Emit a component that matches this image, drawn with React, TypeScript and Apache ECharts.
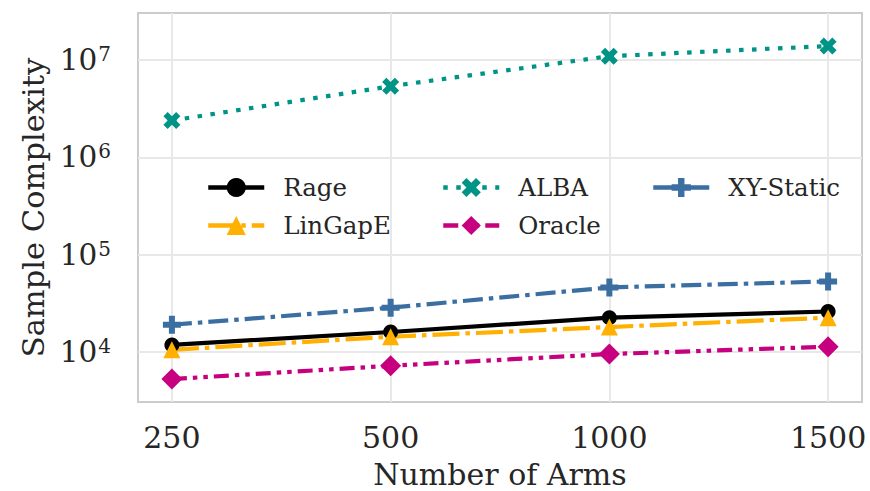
import React, { useEffect, useRef } from "react";
import * as echarts from "echarts";

const categories = ["250", "500", "1000", "1500"];
const rage = [11800, 16000, 22500, 26000];
const alba = [2400000, 5400000, 11000000, 14000000];
const linGapE = [10500, 14300, 18000, 22500];
const oracle = [5250, 7200, 9500, 11300];
const xyStatic = [19000, 28500, 46000, 53000];

const FONT = "DejaVu Serif";

const X_PATH = "path://M0,2L2,0L4,2L6,0L8,2L6,4L8,6L6,8L4,6L2,8L0,6L2,4Z";
const P_PATH = "path://M3,0H6V3H9V6H6V9H3V6H0V3H3Z";

function toPairs(vals: number[]) {
  return vals.map((v, i) => [i, v]);
}

export default function App() {
  const ref = useRef<HTMLDivElement>(null);
  useEffect(() => {
    if (!ref.current) return;
    const chart = echarts.init(ref.current, null, { renderer: "svg" });
    const seriesDefs = [
      { name: "Oracle", data: oracle, color: "#c6007e", dash: [15, 6, 4.5, 6, 4.5, 6], symbol: "diamond", size: 21 },
      { name: "XY-Static", data: xyStatic, color: "#3b6fa1", dash: [20, 6, 4.5, 6], symbol: P_PATH, size: 18 },
      { name: "ALBA", data: alba, color: "#009486", dash: [4.5, 8.5], symbol: X_PATH, size: 17 },
      { name: "Rage", data: rage, color: "#000000", dash: "solid", symbol: "circle", size: 15 },
      { name: "LinGapE", data: linGapE, color: "#ffb000", dash: [27, 6, 4.5, 6], symbol: "triangle", size: 17 },
    ];
    const series = seriesDefs.map((s) => ({
      name: s.name,
      type: "line",
      data: toPairs(s.data),
      symbol: s.symbol,
      symbolSize: s.size,
      showAllSymbol: true,
      itemStyle: { color: s.color, borderWidth: 0 },
      lineStyle: { color: s.color, width: 4.2, type: s.dash as any, cap: "butt" },
      emphasis: { disabled: true },
    }));
    const legendPos: Record<string, [number, number]> = {
      Rage: [206, 175],
      ALBA: [441, 175],
      "XY-Static": [651, 175],
      LinGapE: [206, 213],
      Oracle: [441, 213],
    };
    const legends = Object.keys(legendPos).map((name) => ({
      data: [name],
      left: legendPos[name][0],
      top: legendPos[name][1],
      itemWidth: 56,
      itemHeight: 24,
      padding: 0,
      lineStyle: { width: 4.5 },
      textStyle: { fontFamily: FONT, fontSize: 24.5, color: "#262626", padding: [0, 0, 0, 14] },
    }));
    chart.setOption({
      animation: false,
      backgroundColor: "#ffffff",
      grid: {
        left: 138,
        right: 8,
        top: 13,
        bottom: 89,
        outerBoundsMode: "none",
        show: true,
        borderColor: "#cccccc",
        borderWidth: 2,
        backgroundColor: "transparent",
      },
      legend: legends,
      xAxis: {
        type: "value",
        min: -0.155,
        max: 3.155,
        splitNumber: 3,
        minInterval: 1,
        maxInterval: 1,
        name: "Number of Arms",
        nameLocation: "middle",
        nameGap: 58,
        nameTextStyle: { fontFamily: FONT, fontSize: 30, lineHeight: 28, color: "#262626" },
        axisLine: { show: false },
        axisTick: { show: false },
        axisLabel: {
          showMinLabel: false,
          showMaxLabel: false,
          margin: 20,
          fontFamily: FONT,
          fontSize: 30,
          color: "#262626",
          formatter: (v: number) => {
            const i = Math.round(v);
            return Math.abs(v - i) < 1e-6 && categories[i] ? categories[i] : "";
          },
        },
        splitLine: {
          show: true,
          showMinLine: false,
          showMaxLine: false,
          lineStyle: { color: "#e8e8e8", width: 2 },
        },
      },
      yAxis: {
        type: "log",
        min: 3050,
        max: 30600000,
        name: "Sample Complexity",
        nameLocation: "middle",
        nameGap: 88,
        nameTextStyle: { fontFamily: FONT, fontSize: 30.5, color: "#262626" },
        axisLine: { show: false },
        axisTick: { show: false },
        axisLabel: {
          showMinLabel: false,
          showMaxLabel: false,
          margin: 27,
          fontFamily: FONT,
          color: "#262626",
          formatter: (v: number) => {
            const l = Math.log10(v);
            const n = Math.round(l);
            if (Math.abs(l - n) > 1e-6) return "";
            return `{b|10}{s|${n}}`;
          },
          rich: {
            b: { fontFamily: FONT, fontSize: 29.5, color: "#262626" },
            s: { fontFamily: FONT, fontSize: 20, color: "#262626", padding: [0, 0, 12, 1] },
          },
        },
        splitLine: {
          show: true,
          showMinLine: false,
          showMaxLine: false,
          lineStyle: { color: "#e8e8e8", width: 2 },
        },
      },
      series,
    });
    return () => chart.dispose();
  }, []);
  return (
    <div
      ref={ref}
      style={{ position: "fixed", left: 0, top: 0, width: 870, height: 491, background: "#fff" }}
    />
  );
}
